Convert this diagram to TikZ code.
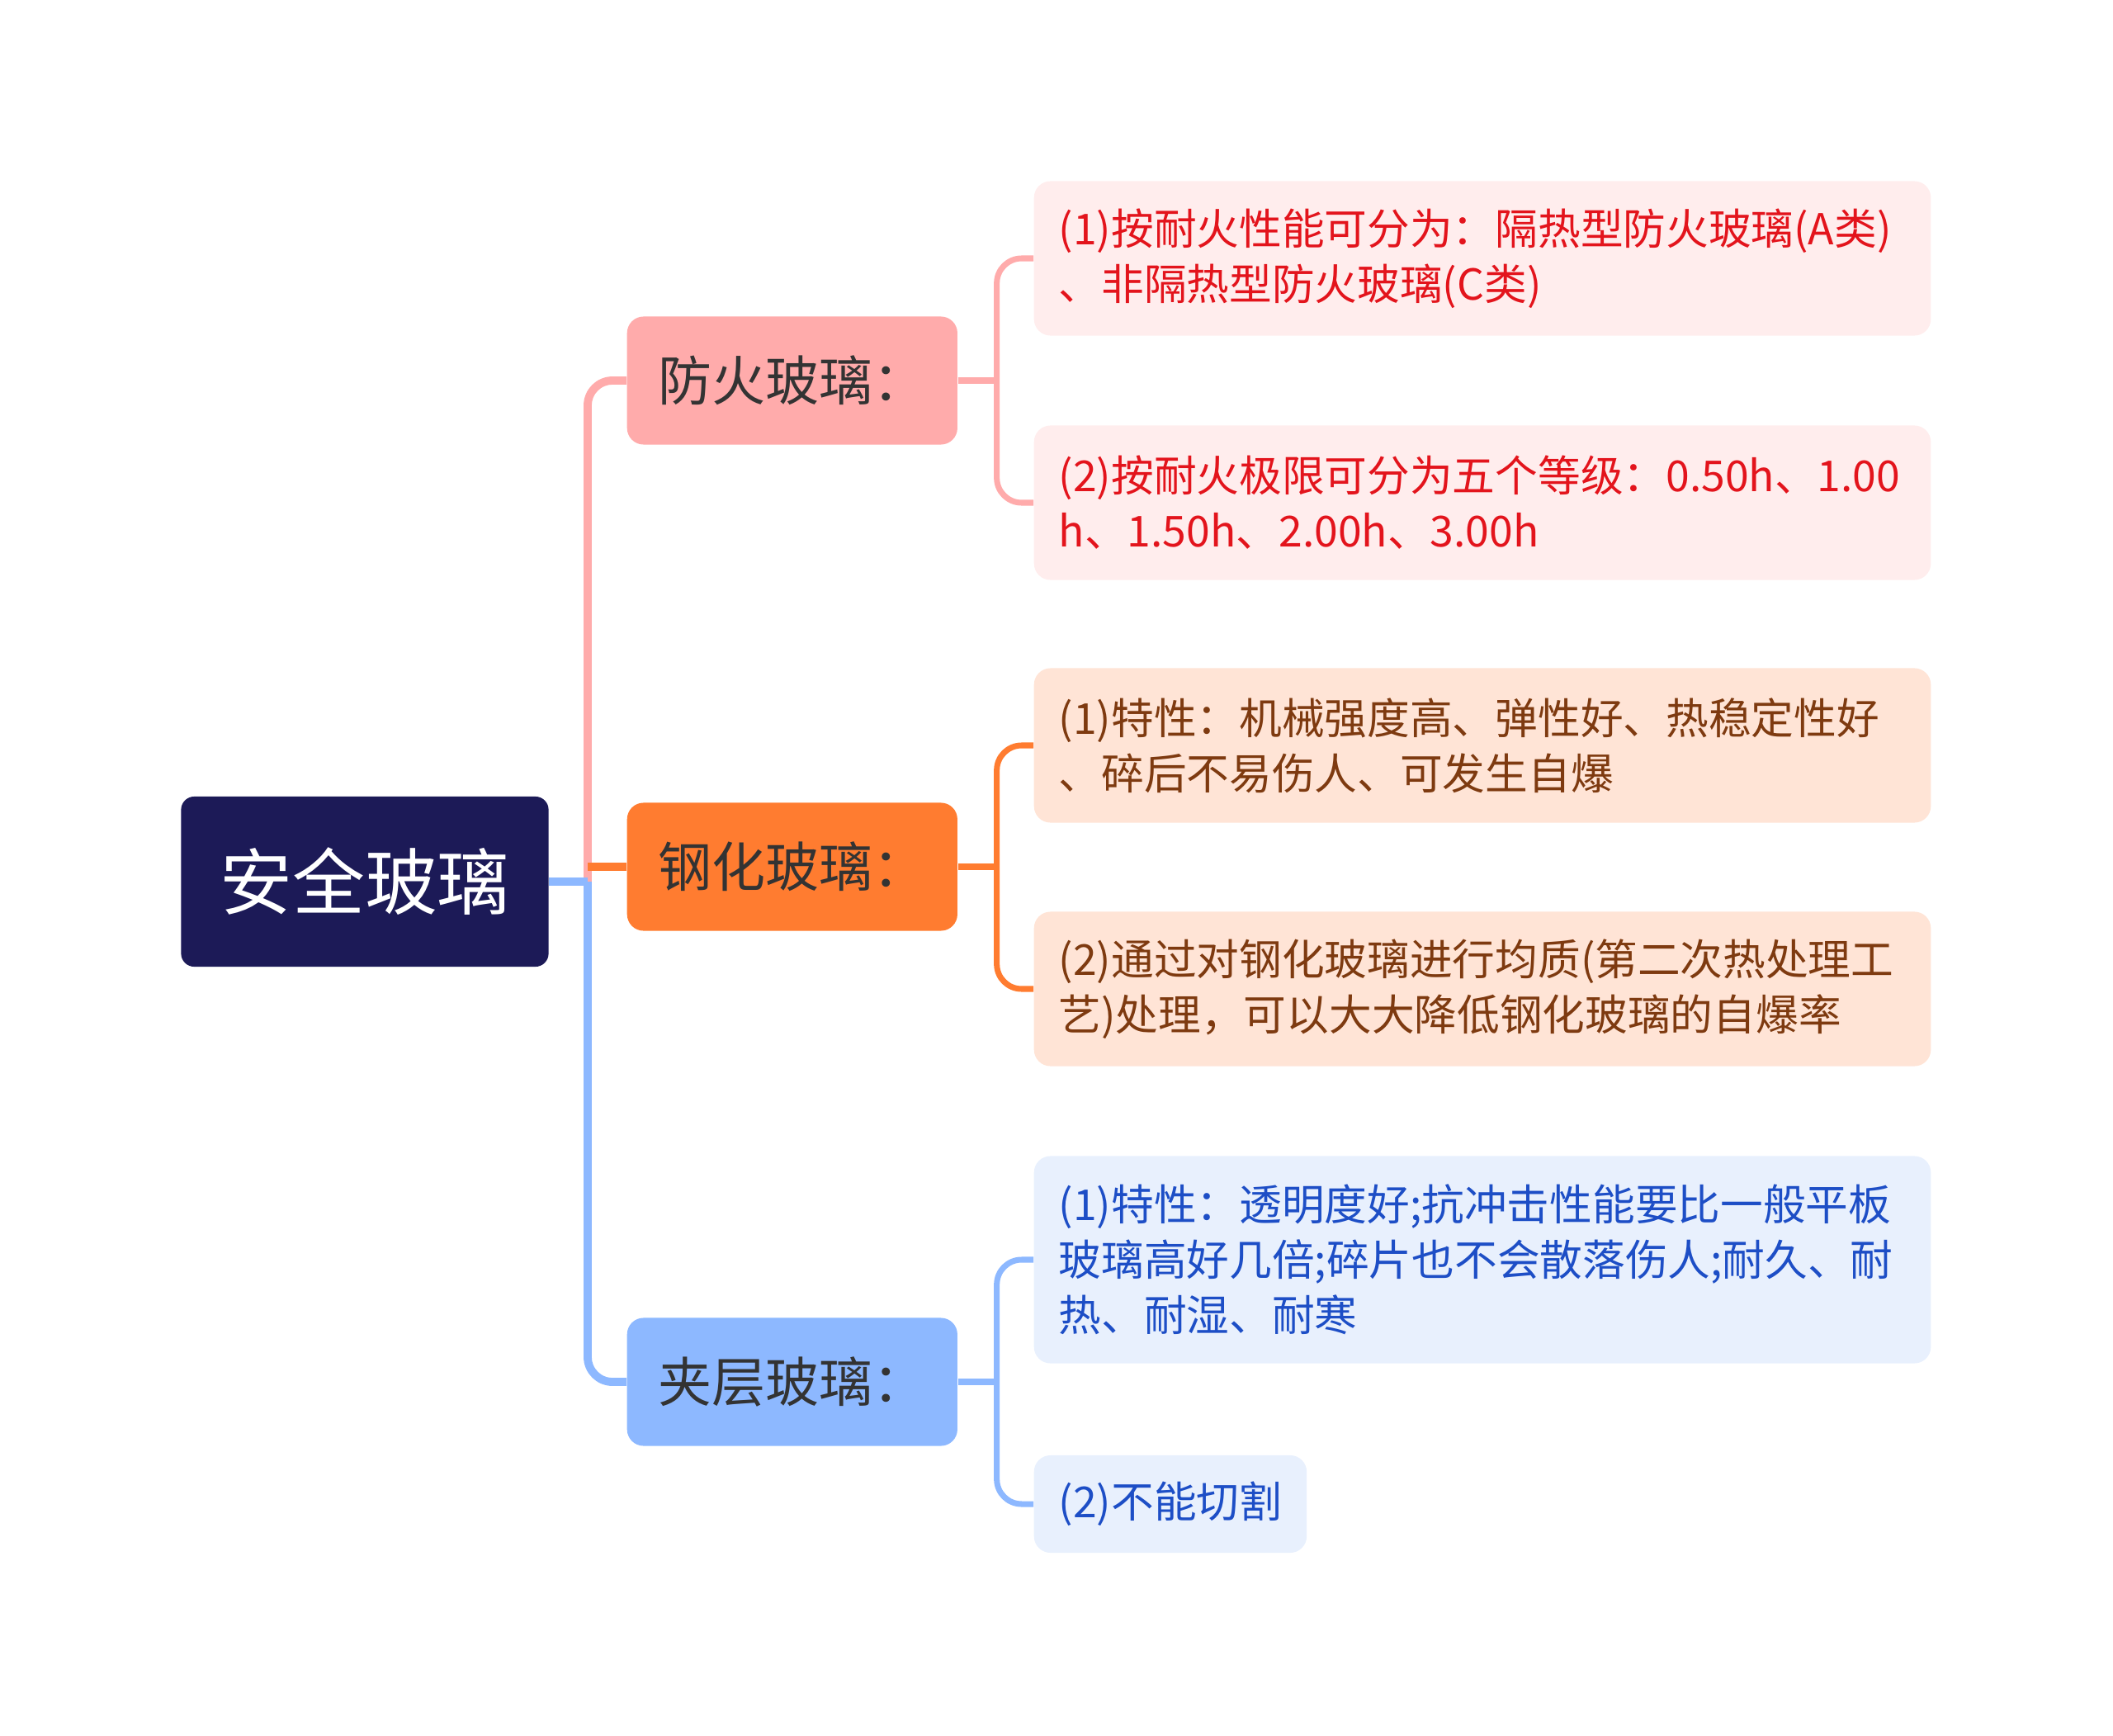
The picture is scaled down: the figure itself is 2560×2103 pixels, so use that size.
\documentclass[tikz,border=0pt]{standalone}
\usepackage{fontspec}
\setmainfont{Noto Sans CJK SC}
\usepackage{xcolor}
\definecolor{rootnavy}{HTML}{1C1A57}
\definecolor{firepink}{HTML}{FFABAB}
\definecolor{temperorange}{HTML}{FF7C30}
\definecolor{lamblue}{HTML}{8DB8FF}
\definecolor{firebg}{HTML}{FFEDED}
\definecolor{temperbg}{HTML}{FFE4D6}
\definecolor{lambg}{HTML}{E8F0FD}
\definecolor{firetext}{HTML}{E3141C}
\definecolor{tempertext}{HTML}{7E3A10}
\definecolor{lamtext}{HTML}{1D4EC6}
\definecolor{cattext}{HTML}{333333}
\tikzset{
  rootbox/.style={fill=rootnavy, text=white, rounded corners=0.16cm,
    minimum width=4.45cm, minimum height=2.06cm, inner sep=0pt,
    font=\fontsize{25}{30}\selectfont},
  catbox/.style={rounded corners=0.2cm, anchor=west, text=cattext,
    minimum width=4.0cm, minimum height=1.55cm, inner sep=0pt,
    font=\fontsize{18.5}{22}\selectfont},
  leafbox/.style={rounded corners=0.2cm, anchor=west, align=left,
    inner xsep=0.3cm, inner ysep=0pt,
    font=\fontsize{14.7}{19}\selectfont},
  wideleaf/.style={leafbox, text width=10.26cm},
  mainline/.style={line width=2.8pt, rounded corners=0.3cm},
  subline/.style={line width=2pt, rounded corners=0.3cm},
}

\begin{document}
\begin{tikzpicture}[x=0.01cm, y=-0.01cm]
  \useasboundingbox (0,0) rectangle (2560,2103);

  % 中心主题
  \node[rootbox] (root) at (442,1068) {安全玻璃};

  % 分支
  \node[catbox, fill=firepink] (fire) at (759,461) {防火玻璃：};
  \node[catbox, fill=temperorange] (temper) at (759,1050) {钢化玻璃：};
  \node[catbox, fill=lamblue] (lam) at (759,1674) {夹层玻璃：};

  % 子节点
  \node[wideleaf, fill=firebg, text=firetext, minimum height=1.87cm] (fire1) at (1252,313)
    {(1)按耐火性能可分为：隔热型防火玻璃(A类)\\、非隔热型防火玻璃(C类)};
  \node[wideleaf, fill=firebg, text=firetext, minimum height=1.87cm] (fire2) at (1252,609)
    {(2)按耐火极限可分为五个等级：0.50h、1.00\\h、1.50h、2.00h、3.00h};
  \node[wideleaf, fill=temperbg, text=tempertext, minimum height=1.87cm] (temper1) at (1252,903)
    {(1)特性：机械强度高、弹性好、热稳定性好\\、碎后不易伤人、可发生自爆};
  \node[wideleaf, fill=temperbg, text=tempertext, minimum height=1.87cm] (temper2) at (1252,1198)
    {(2)通过对钢化玻璃进行均质(第二次热处理工\\艺)处理，可以大大降低钢化玻璃的自爆率};
  \node[wideleaf, fill=lambg, text=lamtext, minimum height=2.51cm] (lam1) at (1252,1526)
    {(1)特性：透明度好;抗冲击性能要比一般平板\\玻璃高好几倍;碎片也不会散落伤人;耐久、耐\\热、耐湿、耐寒};
  \node[leafbox, fill=lambg, text=lamtext, minimum height=1.18cm] (lam2) at (1252,1822)
    {(2)不能切割};

  % 连线
  \coordinate (trunk) at (712,1068);
  \coordinate (fireb) at ([xshift=0.47cm]fire.east);
  \coordinate (temperb) at ([xshift=0.47cm]temper.east);
  \coordinate (lamb) at ([xshift=0.47cm]lam.east);

  \draw[mainline, firepink] (trunk) |- (fire.west);
  \draw[mainline, lamblue] (trunk) |- (lam.west);
  \draw[mainline, lamblue] (root.east) -- (trunk);
  \draw[mainline, temperorange] (trunk |- temper.west) -- (temper.west);

  \draw[subline, firepink] (fire.east) -- (fireb);
  \draw[subline, firepink] (fireb) |- (fire1.west);
  \draw[subline, firepink] (fireb) |- (fire2.west);
  \draw[subline, temperorange] (temper.east) -- (temperb);
  \draw[subline, temperorange] (temperb) |- (temper1.west);
  \draw[subline, temperorange] (temperb) |- (temper2.west);
  \draw[subline, lamblue] (lam.east) -- (lamb);
  \draw[subline, lamblue] (lamb) |- (lam1.west);
  \draw[subline, lamblue] (lamb) |- (lam2.west);
\end{tikzpicture}
\end{document}
